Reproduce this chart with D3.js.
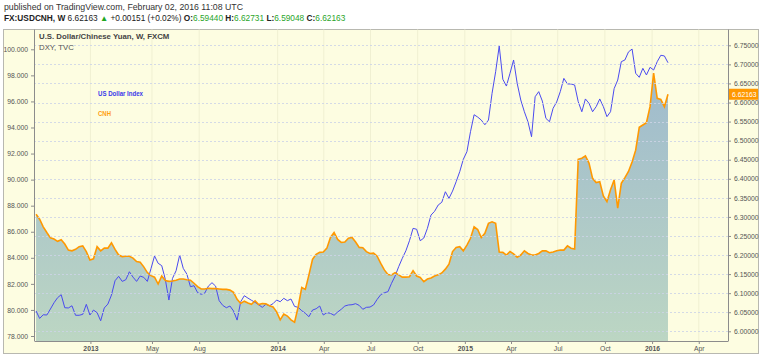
<!DOCTYPE html>
<html><head><meta charset="utf-8">
<script src="https://cdn.jsdelivr.net/npm/d3@7"></script>
<style>body{margin:0;background:#fff;}svg{display:block;font-family:"Liberation Sans",Arial,sans-serif;}</style>
</head><body><svg id="c" width="762" height="357"></svg>
<script>
// Weekly data (week starting dates from 2012-09-17)
const firstWeek = "2012-09-17";
const cnh = [
6.307,6.294,6.274,6.259,6.245,6.242,6.236,6.240,6.229,6.213,
6.211,6.215,6.222,6.224,6.209,6.187,6.190,6.222,6.211,6.218,
6.218,6.232,6.215,6.200,6.196,6.197,6.197,6.192,6.183,6.181,
6.169,6.154,6.146,6.142,6.124,6.145,6.133,6.131,6.132,6.134,
6.137,6.137,6.135,6.134,6.126,6.117,6.111,6.111,6.113,6.112,
6.112,6.111,6.110,6.110,6.108,6.102,6.084,6.073,6.079,6.074,
6.071,6.080,6.070,6.073,6.072,6.067,6.064,6.051,6.030,6.045,
6.040,6.030,6.024,6.064,6.115,6.110,6.148,6.189,6.202,6.207,
6.208,6.218,6.246,6.259,6.241,6.233,6.234,6.244,6.246,6.234,
6.220,6.219,6.209,6.204,6.205,6.197,6.178,6.161,6.149,6.148,
6.154,6.148,6.142,6.142,6.143,6.159,6.145,6.141,6.130,6.137,
6.140,6.145,6.148,6.153,6.163,6.176,6.209,6.220,6.222,6.211,
6.226,6.244,6.274,6.267,6.246,6.257,6.283,6.287,6.283,6.208,
6.207,6.200,6.209,6.203,6.194,6.200,6.211,6.204,6.200,6.200,
6.204,6.211,6.211,6.206,6.208,6.211,6.213,6.213,6.224,6.218,
6.216,6.451,6.454,6.460,6.441,6.401,6.390,6.392,6.355,6.340,
6.371,6.397,6.323,6.388,6.403,6.419,6.444,6.475,6.535,6.541,
6.547,6.589,6.677,6.611,6.608,6.589,6.62163];
const dxy = [
79.92,79.35,79.63,79.61,80.07,80.55,80.94,81.17,80.17,80.15,
80.32,79.59,79.59,79.66,80.43,79.61,79.99,79.79,79.17,80.15,
80.45,81.14,82.24,82.58,82.19,82.32,82.93,82.52,82.19,82.60,
82.50,82.19,83.16,84.14,83.58,83.40,82.35,80.76,82.42,83.01,
84.21,83.19,82.75,81.78,81.86,81.32,81.20,81.30,81.83,82.09,
81.83,80.71,80.35,80.17,80.30,79.92,79.22,80.63,81.09,80.91,
80.74,80.58,80.40,80.20,80.43,80.32,80.48,80.76,80.63,80.89,
80.71,80.84,80.27,80.20,79.94,79.74,79.48,79.99,80.09,80.30,
79.61,79.79,79.74,79.59,79.84,80.05,80.30,80.38,80.40,80.48,
80.35,80.05,80.20,80.22,80.38,80.81,81.17,81.32,81.40,82.04,
82.60,83.32,83.96,84.54,85.31,86.26,86.19,85.31,85.52,86.26,
87.28,87.57,88.05,88.26,89.07,88.56,89.12,89.84,90.61,91.56,
92.14,93.68,94.98,94.80,94.57,94.21,94.57,96.62,98.28,100.25,
97.70,97.18,98.16,99.18,97.39,96.11,95.21,94.44,93.29,96.36,
96.75,96.03,94.70,94.44,95.47,95.96,96.75,97.77,97.34,97.34,
97.26,95.98,95.21,96.19,95.86,95.21,95.60,96.19,95.60,94.83,
95.21,96.98,97.64,99.05,99.18,99.80,100.02,98.16,97.85,98.54,
98.03,98.62,98.41,99.05,99.54,99.49,98.97];
const leftTicks = [78,80,82,84,86,88,90,92,94,96,98,100];
const rightTicks = [6.00,6.05,6.10,6.15,6.20,6.25,6.30,6.35,6.40,6.45,6.50,6.55,6.60,6.65,6.70,6.75];
const timeTickDates = ["2013-01-01","2013-05-01","2013-08-01","2014-01-01","2014-04-01","2014-07-01","2014-10-01","2015-01-01","2015-04-01","2015-07-01","2015-10-01","2016-01-01","2016-04-01"];
const timeTickLabels = ["2013","May","Aug","2014","Apr","Jul","Oct","2015","Apr","Jul","Oct","2016","Apr"];
const lastValue = 6.62163;

const parse = d3.utcParse("%Y-%m-%d");
const w0 = parse(firstWeek);
const weeks = cnh.map((_, i) => d3.utcDay.offset(w0, 7 * i));

const svg = d3.select("#c");
const L = 34, R = 728, T = 29.5, B = 341;

const x = d3.scaleUtc().domain([parse("2012-09-13"), parse("2016-05-28")]).range([L, R]);
const yR = d3.scaleLinear().domain([6.0, 6.75]).range([331.3, 45.3]);
const yL = d3.scaleLinear().domain([78, 100]).range([336, 49.3]);

// header
svg.append("rect").attr("width",762).attr("height",357).attr("fill","#fff");
svg.append("text").attr("x",4).attr("y",10).attr("font-size",8.75).attr("fill","#333")
  .text("published on TradingView.com, February 02, 2016 11:08 UTC");
const h2 = svg.append("text").attr("x",4).attr("y",21).attr("font-size",8.3).attr("fill","#222");
h2.append("tspan").attr("font-weight","bold").text("FX:USDCNH, W");
h2.append("tspan").text("  6.62163 ");
h2.append("tspan").attr("fill","#1fa71f").text("▲");
h2.append("tspan").text(" +0.00151 (+0.02%) ");
[["O:","6.59440"],["H:","6.62731"],["L:","6.59048"],["C:","6.62163"]].forEach(([k,v])=>{
  h2.append("tspan").attr("font-weight","bold").text(" " + k);
  h2.append("tspan").attr("fill","#2aa52a").text(v);
});

// frame
svg.append("rect").attr("x",3.5).attr("y",T).attr("width",755).attr("height",324)
  .attr("fill","#fdfde1").attr("stroke","#b8b8b0");

const defs = svg.append("defs");
const grad = defs.append("linearGradient").attr("id","ag").attr("gradientUnits","userSpaceOnUse")
  .attr("x1",0).attr("x2",0).attr("y1",T).attr("y2",B);
grad.append("stop").attr("offset","0%").attr("stop-color","#9ab6cf");
grad.append("stop").attr("offset","100%").attr("stop-color","#bcd6c3");
defs.append("clipPath").attr("id","clip").append("rect").attr("x",L).attr("y",T).attr("width",R-L).attr("height",B-T);

// vertical grid
svg.append("g").selectAll("line").data(timeTickDates).join("line")
  .attr("x1",d=>x(parse(d))).attr("x2",d=>x(parse(d))).attr("y1",T).attr("y2",B)
  .attr("stroke","#f0f0d2").attr("stroke-width",1);

const plot = svg.append("g").attr("clip-path","url(#clip)");
plot.append("path").datum(cnh)
  .attr("d", d3.area().x((d,i)=>x(weeks[i])).y0(B).y1(d=>yR(d)))
  .attr("fill","url(#ag)");

// horizontal grid (right axis)
svg.append("g").selectAll("line").data(rightTicks).join("line")
  .attr("x1",L).attr("x2",R).attr("y1",d=>Math.round(yR(d))+0.5).attr("y2",d=>Math.round(yR(d))+0.5)
  .attr("stroke","#ccd4e6").attr("stroke-opacity",0.85).attr("stroke-dasharray","2,2").attr("stroke-width",1);

plot.append("path").datum(dxy)
  .attr("d", d3.line().x((d,i)=>x(weeks[i])).y(d=>yL(d)))
  .attr("fill","none").attr("stroke","#4a4af0").attr("stroke-width",1);
plot.append("path").datum(cnh)
  .attr("d", d3.line().x((d,i)=>x(weeks[i])).y(d=>yR(d)))
  .attr("fill","none").attr("stroke","#ff9800").attr("stroke-width",1.6);

// axes
const axStyle = g => {
  g.select(".domain").attr("stroke","#8c8c8c");
  g.selectAll(".tick line").attr("stroke","#8c8c8c");
  g.selectAll(".tick text").attr("fill","#555").attr("font-size",6.8).attr("font-family","\"Liberation Sans\",Arial,sans-serif");
};
svg.append("g").attr("transform",`translate(${L},0)`)
  .call(d3.axisLeft(yL).tickValues(leftTicks).tickFormat(d3.format(".3f")).tickSize(3).tickSizeOuter(0))
  .call(g=>g.select(".domain").attr("d",`M0.5,${T}V${B}`)).call(axStyle);
svg.append("g").attr("transform",`translate(${R},0)`)
  .call(d3.axisRight(yR).tickValues(rightTicks).tickFormat(d3.format(".5f")).tickSize(3).tickSizeOuter(0))
  .call(g=>g.select(".domain").attr("d",`M0.5,${T}V${B}`)).call(axStyle);
const xa = svg.append("g").attr("transform",`translate(0,${B})`)
  .call(d3.axisBottom(x).tickValues(timeTickDates.map(parse)).tickFormat((d,i)=>timeTickLabels[i]).tickSize(3).tickSizeOuter(0))
  .call(axStyle);
xa.selectAll(".tick text").attr("dy","0.55em").attr("font-weight",(d,i)=>/^\d+$/.test(timeTickLabels[i])?"bold":"normal");

// last value label
const ly = yR(lastValue);
svg.append("rect").attr("x",R+1).attr("y",ly-5.5).attr("width",29).attr("height",11).attr("fill","#ff9800");
svg.append("text").attr("x",R+4).attr("y",ly+2.5).attr("font-size",6.8).attr("fill","#fff").text(d3.format(".5f")(lastValue));

// titles
svg.append("text").attr("x",39).attr("y",39).attr("font-size",7.8).attr("font-weight","bold").attr("fill","#444")
  .text("U.S. Dollar/Chinese Yuan, W, FXCM");
svg.append("text").attr("x",39).attr("y",50).attr("font-size",7.8).attr("fill","#555").text("DXY, TVC");

// legend
svg.append("text").attr("x",98).attr("y",95.5).attr("font-size",6.6).attr("font-weight","bold")
  .attr("textLength",45).attr("lengthAdjust","spacingAndGlyphs").attr("fill","#3b3bea").text("US Dollar Index");
svg.append("text").attr("x",98).attr("y",115.5).attr("font-size",6.6).attr("font-weight","bold")
  .attr("textLength",13).attr("lengthAdjust","spacingAndGlyphs").attr("fill","#ff9d12").text("CNH");
</script></body></html>
